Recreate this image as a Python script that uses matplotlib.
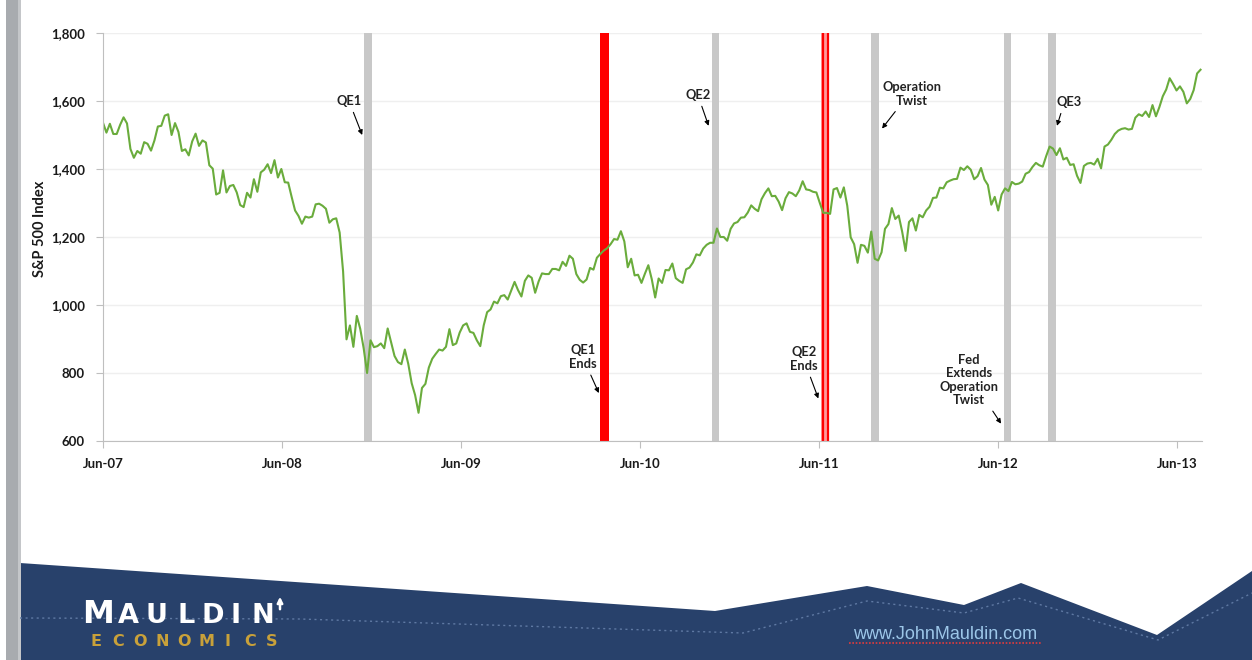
import numpy as np
import pandas as pd
import matplotlib
matplotlib.use("Agg")
import matplotlib.pyplot as plt
from matplotlib.patches import Polygon
import matplotlib.dates as mdates

# weekly S&P 500 closes (Friday)
close_2007 = [1536, 1507, 1533, 1503, 1503,
              1530, 1552, 1534, 1459,
              1433, 1453, 1445, 1479, 1474,
              1454, 1484, 1525, 1527,
              1557, 1561, 1500, 1535,
              1509, 1453, 1458, 1440, 1481,
              1504, 1468, 1484, 1478]
close_2008 = [1411, 1401, 1325, 1330,
              1396, 1331, 1350, 1353, 1331,
              1294, 1288, 1330, 1316,
              1370, 1333, 1390, 1398,
              1414, 1388, 1426, 1375, 1400,
              1361, 1360, 1318, 1278,
              1262, 1239, 1260, 1257,
              1260, 1296, 1298, 1292, 1283,
              1242, 1252, 1255, 1213,
              1099, 899, 940, 877, 968,
              930, 873, 800, 896,
              876, 879, 887, 873]
close_2009 = [931, 890, 850, 832, 826,
              869, 827, 770, 735,
              683, 756, 768, 816,
              842, 856, 869, 866,
              877, 929, 882, 887, 919,
              940, 946, 921, 918,
              896, 879, 940, 979, 987,
              1010, 1005, 1026, 1029,
              1016, 1042, 1068, 1044,
              1025, 1071, 1087, 1080, 1036,
              1069, 1093, 1091, 1091,
              1106, 1106, 1102, 1127, 1115]
close_2010 = [1145, 1136, 1091, 1074,
              1066, 1075, 1109, 1104,
              1139, 1150, 1160, 1167,
              1179, 1194, 1192, 1217, 1187,
              1111, 1136, 1087, 1089,
              1065, 1092, 1117, 1076,
              1022, 1078, 1065, 1103, 1102,
              1122, 1079, 1071, 1065,
              1105, 1110, 1125, 1149,
              1146, 1166, 1177, 1183, 1183,
              1225, 1200, 1200, 1189,
              1224, 1240, 1244, 1257, 1258]
close_2011 = [1272, 1293, 1283, 1276,
              1311, 1329, 1343, 1320,
              1321, 1304, 1279, 1314,
              1332, 1328, 1320, 1337, 1364,
              1340, 1338, 1333, 1331,
              1300, 1271, 1271, 1268,
              1340, 1344, 1316, 1346, 1292,
              1199, 1179, 1124, 1177,
              1174, 1154, 1216, 1136, 1131,
              1155, 1224, 1238, 1285,
              1253, 1263, 1216, 1159,
              1244, 1255, 1219, 1265, 1258]
close_2012 = [1278, 1289, 1315, 1316,
              1345, 1343, 1361, 1366,
              1370, 1371, 1404, 1397, 1408,
              1398, 1370, 1379, 1403,
              1369, 1353, 1295, 1318,
              1278, 1325, 1343, 1335, 1362,
              1355, 1357, 1363, 1386,
              1391, 1406, 1418, 1411, 1407,
              1438, 1466, 1460, 1441,
              1461, 1428, 1433, 1412,
              1414, 1380, 1359, 1409, 1416,
              1418, 1413, 1430, 1402]
close_2013 = [1466, 1472, 1486, 1503,
              1513, 1518, 1520, 1516,
              1518, 1551, 1561, 1556, 1569,
              1553, 1588, 1555, 1582,
              1614, 1634, 1667, 1650, 1631,
              1643, 1627, 1593, 1606,
              1632, 1681, 1692]

gray_bands = [("2008-11-15", "2008-12-02"),   # QE1
              ("2010-10-25", "2010-11-09"),   # QE2
              ("2011-09-15", "2011-10-02"),   # Operation Twist
              ("2012-06-12", "2012-06-28"),   # Fed extends OT
              ("2012-09-11", "2012-09-27")]   # QE3
qe1_end_band = ("2010-03-11", "2010-03-30")
qe2_end_band = ("2011-06-05", "2011-06-22")

x_ticks = ["2007-06-01", "2008-06-01", "2009-06-01", "2010-06-01",
           "2011-06-01", "2012-06-01", "2013-06-01"]
y_ticks = [600, 800, 1000, 1200, 1400, 1600, 1800]

# label, text position (date, value), arrow tip (date, value), relpos
notes = [("QE1", ("2008-10-15", 1600), ("2008-11-11", 1500), (0.5, 0.5)),
         ("QE1\nEnds", ("2010-02-04", 847), ("2010-03-09", 741), (0.5, 0.5)),
         ("QE2", ("2010-09-27", 1618), ("2010-10-19", 1527), (0.5, 0.5)),
         ("QE2\nEnds", ("2011-05-01", 841), ("2011-05-31", 725), (0.5, 0.5)),
         ("Operation\nTwist", ("2011-12-08", 1621), ("2011-10-08", 1519), (0.35, 0.2)),
         ("QE3", ("2012-10-23", 1597), ("2012-09-29", 1527), (0.3, 0.3)),
         ("Fed\nExtends\nOperation\nTwist", ("2012-04-02", 780), ("2012-06-07", 651), (0.82, 0.05))]

values = close_2007 + close_2008 + close_2009 + close_2010 + close_2011 + close_2012 + close_2013
dates = pd.date_range("2007-06-01", periods=len(values), freq="W-FRI")

plt.rcParams['font.family'] = ['Lato', 'DejaVu Sans']
W, H = 1252, 660
fig = plt.figure(figsize=(W / 100, H / 100), dpi=100)
fig.patch.set_facecolor("white")

# slide decoration, in pixel space
bg = fig.add_axes([0, 0, 1, 1], zorder=0)
bg.set_xlim(0, W)
bg.set_ylim(H, 0)
bg.axis("off")
bg.add_patch(Polygon([(20, 563), (715, 611), (867, 586), (964, 605), (1021, 583),
                      (1157, 635), (1252, 571), (1252, 660), (20, 660)],
                     closed=True, facecolor="#28416b", edgecolor="none"))
bg.plot([20, 300, 743, 867, 964, 1018, 1158, 1252], [618, 619, 633, 601, 613, 598, 640, 593],
        ls=(0, (1.5, 2.5)), color="#5f79a3", lw=1)
bg.add_patch(plt.Rectangle((6, 0), 15, H, facecolor="#a8abaf", edgecolor="none"))
bg.add_patch(plt.Rectangle((18, 0), 3, H, facecolor="#c4c6c9", edgecolor="none"))

# logo
logo_x = [98, 128, 157, 186, 213, 236, 263]
for i, ch in enumerate("MAULDIN"):
    bg.text(logo_x[i], 623, ch, color="white", fontsize=23 if i == 0 else 19.5,
            fontweight="bold", va="baseline", ha="center", family="DejaVu Sans")
bg.annotate("", xy=(280, 594), xytext=(280, 612),
            arrowprops=dict(arrowstyle="-|>", color="white", lw=1.8, mutation_scale=8))
for i, ch in enumerate("ECONOMICS"):
    bg.text(96 + 22 * i, 646, ch, color="#c9a13a", fontsize=11.5, fontweight="bold",
            va="baseline", ha="center", family="DejaVu Sans")
bg.text(945, 639, "www.JohnMauldin.com", color="#9cc6e8", fontsize=13, ha="center",
        va="baseline", family=["Liberation Sans Narrow", "Liberation Sans", "DejaVu Sans"])
bg.plot([849, 1041], [643, 643], color="#e23b3b", lw=1.2, ls=(0, (1, 1)))

ax = fig.add_axes([103 / W, 1 - 441 / H, (1202 - 103) / W, (441 - 33) / H], zorder=2)
ax.set_facecolor("white")

for a, b in gray_bands:
    ax.axvspan(pd.Timestamp(a), pd.Timestamp(b), color="#c8c8c8", lw=0, zorder=1)
ax.axvspan(pd.Timestamp(qe1_end_band[0]), pd.Timestamp(qe1_end_band[1]), color="#ff0000", lw=0, zorder=1)
ax.axvspan(pd.Timestamp(qe2_end_band[0]), pd.Timestamp(qe2_end_band[1]), color="#ff9a9a", lw=0, zorder=1)
ax.axvline(pd.Timestamp(qe2_end_band[0]) + pd.Timedelta(days=4), color="#ff0000", lw=1.6, zorder=1)
ax.axvline(pd.Timestamp(qe2_end_band[1]) - pd.Timedelta(days=3), color="#ff0000", lw=1.6, zorder=1)

ax.plot(dates, values, color="#6aac3c", lw=1.5, zorder=3)

ax.set_xlim(pd.Timestamp("2007-06-01"), pd.Timestamp("2013-07-22"))
ax.set_ylim(600, 1800)
ax.set_yticks(y_ticks)
ax.set_yticklabels([f"{v:,}" for v in y_ticks])
ax.set_xticks([pd.Timestamp(t) for t in x_ticks])
ax.xaxis.set_major_formatter(mdates.DateFormatter("%b-%y"))
ax.grid(axis="y", color="#efefef", lw=1)
ax.set_axisbelow(True)
for s in ["top", "right"]:
    ax.spines[s].set_visible(False)
for s in ["left", "bottom"]:
    ax.spines[s].set_color("#bfbfbf")
    ax.spines[s].set_zorder(4)
ax.tick_params(axis="both", colors="#bfbfbf", labelcolor="#1a1a1a", labelsize=9.5, length=5)
ax.tick_params(axis="y", pad=8)
ax.tick_params(axis="x", pad=7)
for lab in ax.get_xticklabels() + ax.get_yticklabels():
    lab.set_fontweight("bold")
ax.set_ylabel("S&P 500 Index", fontsize=10.5, fontweight="bold", color="#1a1a1a")
ax.yaxis.set_label_coords(-0.051, 0.52)

for label, (tx, ty), (px, py), rel in notes:
    ax.annotate(label, xy=(pd.Timestamp(px), py), xytext=(pd.Timestamp(tx), ty),
                ha="center", va="center", fontsize=9.3, fontweight="bold", color="#222222",
                linespacing=1.15, zorder=5,
                arrowprops=dict(arrowstyle="-|>", color="black", lw=0.8, mutation_scale=7,
                                shrinkA=2, shrinkB=0, relpos=rel))

fig.savefig("out.png", dpi=100)
